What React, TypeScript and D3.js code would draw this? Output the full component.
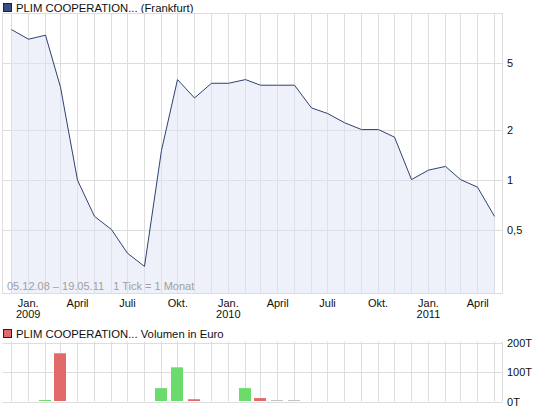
import React from 'react';
import * as d3 from 'd3';

// monthly closing prices (first of month), Dec 2008 - May 2011
const months = [
  '2008-12', '2009-01', '2009-02', '2009-03', '2009-04', '2009-05', '2009-06', '2009-07',
  '2009-08', '2009-09', '2009-10', '2009-11', '2009-12', '2010-01', '2010-02', '2010-03',
  '2010-04', '2010-05', '2010-06', '2010-07', '2010-08', '2010-09', '2010-10', '2010-11',
  '2010-12', '2011-01', '2011-02', '2011-03', '2011-04', '2011-05',
];
const prices = [
  8.0, 7.0, 7.4, 3.6, 0.99, 0.6, 0.5, 0.36,
  0.3, 1.5, 4.0, 3.1, 3.8, 3.8, 4.0, 3.7,
  3.7, 3.7, 2.7, 2.5, 2.2, 2.0, 2.0, 1.8,
  1.0, 1.14, 1.2, 1.0, 0.9, 0.6,
];

// volume in thousand euro
const volMonths = ['2009-02', '2009-03', '2009-09', '2009-10', '2009-11', '2010-02', '2010-03', '2010-04', '2010-05'];
const volumes = [3, 163, 44, 115, 6, 44, 10, 3, 3];
const volDir = ['up', 'down', 'up', 'up', 'down', 'up', 'down', 'flat', 'flat'];

const priceTicks = [0.5, 1, 2, 5];
const priceTickLabels = ['0,5', '1', '2', '5'];
const volTicks = [0, 100, 200];

const monthNames = ['Jan.', 'Feb.', 'März', 'April', 'Mai', 'Juni', 'Juli', 'Aug.', 'Sep.', 'Okt.', 'Nov.', 'Dez.'];

const FONT = '"Liberation Sans", Arial, sans-serif';
const GRID = '#dddddd';

const parse = d3.timeParse('%Y-%m');

export default function App() {
  const W = 545;
  const H = 410;
  const left = 2.5;
  const right = 502.5;
  const top = 13.5;
  const bottom = 293.5;
  const vTop = 341.5;
  const vBottom = 401.5;

  const x = d3
    .scaleTime()
    .domain([new Date(2008, 10, 16), new Date(2011, 4, 17)])
    .range([left, right]);

  const y = d3.scaleLog().domain([10, 0.206]).range([top, bottom]);
  const yv = d3.scaleLinear().domain([0, 205]).range([vBottom, vTop]);

  const monthTicks = d3.timeMonth.range(new Date(2008, 11, 1), new Date(2011, 5, 1));
  const labelTicks = monthTicks.filter(d => d.getMonth() % 3 === 0);

  const pts = months.map((m, i) => ({ date: parse(m) as Date, v: prices[i] }));

  const line = d3
    .line<{ date: Date; v: number }>()
    .x(d => Math.round(x(d.date)) + 0.5)
    .y(d => y(d.v));

  const area = d3
    .area<{ date: Date; v: number }>()
    .x(d => Math.round(x(d.date)) + 0.5)
    .y0(bottom)
    .y1(d => y(d.v));

  const colorOf: Record<string, string> = { up: '#6bdb6b', down: '#e06a6a', flat: '#c4c4c4' };

  return (
    <svg width={W} height={H} style={{ position: 'absolute', left: 0, top: 0, background: '#fff' }} fontFamily={FONT}>
      {/* price panel legend */}
      <rect x={3.5} y={3.5} width={8} height={8} fill="#3a4f80" stroke="#222" />
      <text x={16} y={12} fontSize={11.3} fill="#111">PLIM COOPERATION... (Frankfurt)</text>

      {/* grid */}
      {monthTicks.map((d, i) => (
        <line key={i} x1={Math.round(x(d)) + 0.5} x2={Math.round(x(d)) + 0.5} y1={top} y2={bottom} stroke={GRID} />
      ))}
      {priceTicks.map((t, i) => (
        <line key={i} x1={left} x2={right} y1={Math.round(y(t)) + 0.5} y2={Math.round(y(t)) + 0.5} stroke={GRID} />
      ))}

      <path d={area(pts) || ''} fill="#dde3f3" fillOpacity={0.5} />
      <path d={line(pts) || ''} fill="none" stroke="#2e4272" strokeWidth={1} />

      <rect x={left} y={top} width={right - left} height={bottom - top} fill="none" stroke={GRID} />

      {priceTicks.map((t, i) => (
        <text key={i} x={507} y={y(t) + 4} fontSize={11} fill="#111">{priceTickLabels[i]}</text>
      ))}

      <text x={7} y={290} fontSize={11} fill="#a0a0a0" style={{ whiteSpace: 'pre' }}>
        {'05.12.08 – 19.05.11   1 Tick = 1 Monat'}
      </text>

      {labelTicks.map((d, i) => (
        <g key={i}>
          <text x={x(d) + 0.5} y={307} fontSize={11} textAnchor="middle" fill="#111">{monthNames[d.getMonth()]}</text>
          {d.getMonth() === 0 && (
            <text x={x(d) + 0.5} y={318} fontSize={11} textAnchor="middle" fill="#111">{d.getFullYear()}</text>
          )}
        </g>
      ))}

      {/* volume panel */}
      <rect x={3.5} y={329.5} width={8} height={8} fill="#e06a6a" stroke="#222" />
      <text x={16} y={338} fontSize={11.3} fill="#111">PLIM COOPERATION... Volumen in Euro</text>

      {monthTicks.map((d, i) => (
        <line key={i} x1={Math.round(x(d)) + 0.5} x2={Math.round(x(d)) + 0.5} y1={vTop} y2={vBottom} stroke={GRID} />
      ))}
      {volTicks.map((t, i) => (
        <line key={i} x1={left} x2={right} y1={Math.round(yv(t)) + 0.5} y2={Math.round(yv(t)) + 0.5} stroke={GRID} />
      ))}
      <line x1={right} x2={right} y1={vTop} y2={vBottom} stroke={GRID} />

      {volMonths.map((m, i) => {
        const cx = Math.round(x(parse(m) as Date));
        const h = Math.max(1, vBottom - yv(volumes[i]));
        return (
          <rect key={i} x={cx - 6} y={vBottom - 0.5 - h} width={12} height={h} fill={colorOf[volDir[i]]} />
        );
      })}

      {volTicks.map((t, i) => (
        <text key={i} x={507} y={yv(t) + 4} fontSize={11} fill="#111">{t}T</text>
      ))}
    </svg>
  );
}
